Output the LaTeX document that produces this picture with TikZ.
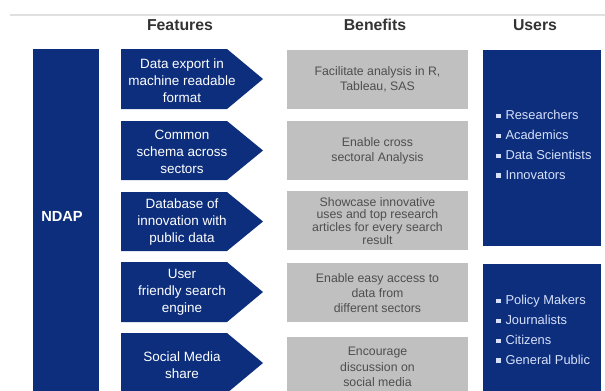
\documentclass[tikz,border=0pt]{standalone}
\usepackage{fontspec}
\setmainfont{Liberation Sans}
\usepackage{xcolor}
\usepackage{tikz}

\definecolor{ndapblue}{RGB}{12,46,124}
\definecolor{boxgray}{RGB}{192,192,192}
\definecolor{bentext}{RGB}{78,78,78}
\definecolor{usertext}{RGB}{214,224,250}
\newcommand{\usr}[1]{\rule[0.2ex]{4pt}{4pt}\hspace{4pt}#1}

\begin{document}
\begin{tikzpicture}[x=0.03cm, y=-0.03cm,
    header/.style={font=\bfseries\fontsize{13.5}{16}\selectfont, text=black!80},
    feature/.style={align=center, text=white, font=\fontsize{11.5}{14.5}\selectfont},
    benefit/.style={align=center, text=bentext, font=\fontsize{10.5}{13}\selectfont},
    userlist/.style={align=left, anchor=west, text=usertext, font=\fontsize{11}{17}\selectfont}]
    \useasboundingbox (0,0) rectangle (605,391);
    \draw[black!12, line width=1pt] (10,15) -- (605,15);

    \node[header] (hfeat) at (180,25) {Features};
    \node[header] (hben) at (375,25) {Benefits};
    \node[header] (husers) at (535,25) {Users};

    \fill[ndapblue] (33,49) rectangle (99,395);
    \node[text=white, font=\bfseries\fontsize{12.5}{15}\selectfont] (ndap) at (62,216) {NDAP};

    \fill[ndapblue] (121,49) -- (227,49) -- (263,79) -- (227,109) -- (121,109) -- cycle;
    \node[feature] (f1) at (182,81) {Data export in\\machine readable\\format};
    \fill[ndapblue] (121,121) -- (227,121) -- (263,150.5) -- (227,180) -- (121,180) -- cycle;
    \node[feature] (f2) at (182,152) {Common\\schema across\\sectors};
    \fill[ndapblue] (121,192) -- (227,192) -- (263,221.5) -- (227,251) -- (121,251) -- cycle;
    \node[feature] (f3) at (182,222) {Database of\\innovation with\\public data};
    \fill[ndapblue] (121,262) -- (227,262) -- (263,292) -- (227,322) -- (121,322) -- cycle;
    \node[feature] (f4) at (182,292) {User\\friendly search\\engine};
    \fill[ndapblue] (121,333) -- (227,333) -- (263,363) -- (227,393) -- (121,393) -- cycle;
    \node[feature] (f5) at (182,365) {Social Media\\share};

    \fill[boxgray] (287,50) rectangle (468,109);
    \node[benefit] (b1) at (377.5,79) {Facilitate analysis in R,\\Tableau, SAS};
    \fill[boxgray] (287,121) rectangle (468,180);
    \node[benefit] (b2) at (377.5,150.5) {Enable cross\\sectoral Analysis};
    \fill[boxgray] (287,191) rectangle (468,250);
    \node[benefit, font=\fontsize{10.5}{11}\selectfont] (b3) at (377.5,221) {Showcase innovative\\uses and top research\\articles for every search\\result};
    \fill[boxgray] (287,263) rectangle (468,322);
    \node[benefit] (b4) at (377.5,293) {Enable easy access to\\data from\\different sectors};
    \fill[boxgray] (287,337) rectangle (468,397);
    \node[benefit] (b5) at (377.5,367) {Encourage\\discussion on\\social media};

    \fill[ndapblue] (483,50) rectangle (601,246);
    \node[userlist] (u1) at (492,145) {\usr{Researchers}\\\usr{Academics}\\\usr{Data Scientists}\\\usr{Innovators}};
    \fill[ndapblue] (483,264) rectangle (601,395);
    \node[userlist] (u2) at (492,330) {\usr{Policy Makers}\\\usr{Journalists}\\\usr{Citizens}\\\usr{General Public}};
\end{tikzpicture}
\end{document}
